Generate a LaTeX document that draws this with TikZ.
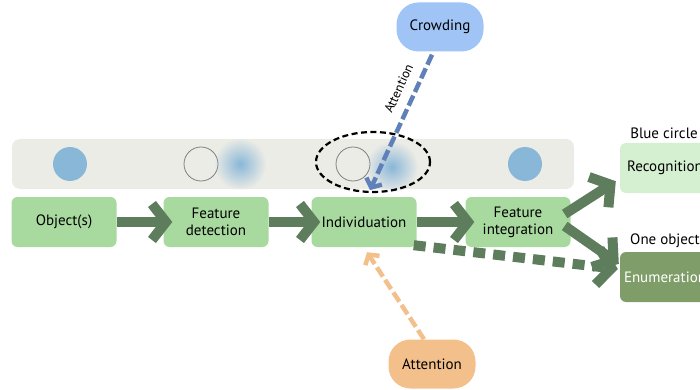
\documentclass[tikz,border=0pt]{standalone}
\usepackage{fontspec}
\setmainfont{PT Sans}
\usetikzlibrary{arrows.meta,shapes.geometric,fadings}

\definecolor{bandgray}{RGB}{236,236,230}
\definecolor{dotblue}{RGB}{137,183,216}
\definecolor{stepgreen}{RGB}{168,218,160}
\definecolor{palegreen}{RGB}{213,240,208}
\definecolor{olivegreen}{RGB}{127,157,104}
\definecolor{flowgreen}{RGB}{94,125,92}
\definecolor{crowdblue}{RGB}{160,196,245}
\definecolor{cueblue}{RGB}{96,128,185}
\definecolor{cueorange}{RGB}{243,192,140}

\tikzfading[name=blurblob, inner color=transparent!0, outer color=transparent!100]

\tikzset{
  stage/.style={fill=stepgreen, rounded corners=6pt, minimum width=105, minimum height=50, align=center},
  outcome/.style={rounded corners=6pt, minimum width=90, minimum height=50, align=center},
  pill/.style={rounded corners=22pt, minimum width=87, minimum height=49},
  flow/.style={draw=flowgreen, line width=10pt, -{Straight Barb[length=14pt,width=36pt]}},
  cue/.style={line width=4.5pt, dash pattern=on 11pt off 4pt, -{Straight Barb[length=7pt,width=17pt]}},
}

\begin{document}
\begin{tikzpicture}[x=1pt,y=-1pt,font=\fontsize{15}{17}\selectfont]
  \clip (0,0) rectangle (700,390);

  % grey strip with the stimulus dots
  \fill[bandgray, rounded corners=8pt] (12,139) rectangle (574,189);
  \fill[dotblue] (70,164) circle (17);
  \draw[gray, line width=0.8pt] (201,164) circle (17);
  \fill[dotblue, path fading=blurblob] (240,164) circle (26);
  \draw[gray, line width=0.8pt] (353,164) circle (17);
  \fill[dotblue, path fading=blurblob] (392,167) circle (26);
  \fill[dotblue] (525,164) circle (17);
  \node[draw, ellipse, line width=2.2pt, dash pattern=on 6pt off 3.5pt, minimum width=114, minimum height=60] (focus) at (373,162) {};

  % processing stages
  \node[stage] (obj) at (64,222) {Object(s)};
  \node[stage] (detect) at (216,222) {Feature\\detection};
  \node[stage] (indiv) at (364,222) {Individuation};
  \node[stage] (integ) at (518,222) {Feature\\integration};

  \node[outcome, fill=palegreen] (recog) at (665,168) {Recognition};
  \node[outcome, fill=olivegreen, text=white] (enum) at (665,277) {Enumeration};
  \node (bluecircle) at (664,133) {Blue circle};
  \node (oneobj) at (665,241) {One object};

  \node[pill, fill=crowdblue] (crowd) at (440,27) {Crowding};
  \node[pill, fill=cueorange] (attn) at (432,364) {Attention};

  \draw[flow, shorten >=-9pt] (obj) -- (detect);
  \draw[flow, shorten >=-9pt] (detect) -- (indiv);
  \draw[flow, shorten >=-9pt] (indiv) -- (integ);
  \draw[flow] ([xshift=-6pt,yshift=8pt]integ.east) -- ([xshift=-4pt,yshift=12pt]recog.south west);
  \draw[flow] ([xshift=-6pt,yshift=-4pt]integ.east) -- ([xshift=-1pt,yshift=-12pt]enum.north west);
  \draw[flow, dash pattern=on 12pt off 8pt] ([xshift=-3pt,yshift=2pt]indiv.south east) -- ([xshift=-2pt,yshift=8pt]enum.west);

  \draw[cue, draw=cueblue] ([xshift=-8pt,yshift=-3pt]crowd.south) -- ([xshift=-3pt,yshift=3pt]focus.south)
    node[pos=.3, sloped, above=6pt, font=\fontsize{13}{15}\selectfont] {Attention};
  \draw[cue, draw=cueorange] ([xshift=-8pt]attn.north) -- ([xshift=3pt,yshift=-5pt]indiv.south);
\end{tikzpicture}
\end{document}
